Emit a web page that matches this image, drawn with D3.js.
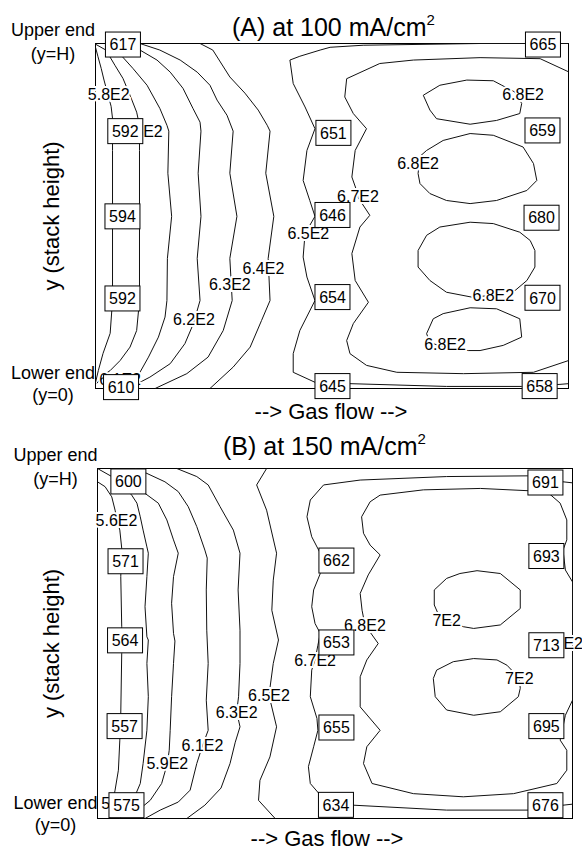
<!DOCTYPE html>
<html>
<head>
<meta charset="utf-8">
<script src="https://cdn.jsdelivr.net/npm/d3@7"></script>
<style>
  body { margin: 0; background: #fff; }
  text { font-family: "Liberation Sans", Arial, sans-serif; fill: #000; }
</style>
</head>
<body>
<svg id="chart" width="582" height="850"></svg>
<script>
// positions are fractions: x along gas flow (0 = inlet), y along stack height (0 = lower end, 1 = H)

// ---- panel A, 100 mA/cm2 ----
const boxesA = [
  [0.058, 0.997, 617], [0.063, 0.746, 592], [0.057, 0.499, 594], [0.057, 0.261, 592], [0.054, 0.004, 610],
  [0.503, 0.741, 651], [0.501, 0.503, 646], [0.501, 0.265, 654], [0.501, 0.007, 645],
  [0.946, 0.997, 665], [0.945, 0.748, 659], [0.943, 0.495, 680], [0.945, 0.263, 670], [0.939, 0.007, 658]
];

const contoursA = [
  [580, [[0,0.989],[0.005,0.963],[0.012,0.928],[0.018,0.894],[0.026,0.853],[0.033,0.818],[0.036,0.783],[0.036,0.69],[0.036,0.5],[0.036,0.255],[0.031,0.16],[0.016,0.102],[0.006,0.052],[0,0.017]]],
  [600, [[0,0.998],[0.022,0.981],[0.041,0.937],[0.058,0.899],[0.073,0.85],[0.087,0.801],[0.093,0.763],[0.093,0.69],[0.093,0.499],[0.093,0.255],[0.087,0.168],[0.073,0.12],[0.052,0.081],[0.031,0.052],[0.016,0.038],[0.003,0.015]]],
  [610, [[0.041,1],[0.052,0.969],[0.079,0.928],[0.109,0.879],[0.136,0.812],[0.151,0.763],[0.155,0.746],[0.153,0.624],[0.161,0.499],[0.152,0.377],[0.151,0.255],[0.147,0.207],[0.133,0.149],[0.112,0.091],[0.094,0.047],[0.079,0.023],[0.062,0]]],
  [620, [[0.073,1],[0.094,0.981],[0.13,0.952],[0.158,0.917],[0.185,0.87],[0.206,0.812],[0.221,0.772],[0.223,0.746],[0.217,0.624],[0.223,0.499],[0.215,0.377],[0.221,0.255],[0.207,0.188],[0.189,0.13],[0.158,0.072],[0.115,0.033],[0.094,0.018],[0.077,0]]],
  [630, [[0.094,1],[0.136,0.981],[0.179,0.952],[0.215,0.917],[0.242,0.879],[0.257,0.836],[0.278,0.792],[0.291,0.746],[0.284,0.624],[0.299,0.499],[0.284,0.377],[0.289,0.255],[0.27,0.168],[0.238,0.091],[0.193,0.043],[0.126,0]]],
  [640, [[0.221,1],[0.248,0.981],[0.284,0.903],[0.316,0.856],[0.344,0.807],[0.363,0.763],[0.369,0.746],[0.36,0.624],[0.377,0.499],[0.365,0.377],[0.369,0.255],[0.351,0.197],[0.327,0.12],[0.291,0.062],[0.242,0]]],
  [650, [[1,1],[0.813,1],[0.566,0.995],[0.496,0.989],[0.475,0.981],[0.432,0.963],[0.411,0.952],[0.418,0.884],[0.443,0.816],[0.464,0.753],[0.447,0.69],[0.439,0.603],[0.453,0.545],[0.464,0.499],[0.443,0.449],[0.439,0.381],[0.447,0.323],[0.464,0.255],[0.432,0.168],[0.418,0.101],[0.418,0.047],[0.464,0.018],[0.538,0.014],[0.742,0.006],[0.901,0.006],[0.982,0.012],[1,0.014]]],
  [670, [[1,0.918],[0.94,0.956],[0.813,0.959],[0.672,0.952],[0.601,0.942],[0.531,0.898],[0.527,0.845],[0.545,0.797],[0.573,0.753],[0.549,0.69],[0.542,0.613],[0.552,0.574],[0.555,0.554],[0.58,0.502],[0.559,0.468],[0.542,0.391],[0.549,0.313],[0.577,0.25],[0.545,0.188],[0.531,0.139],[0.538,0.101],[0.573,0.067],[0.637,0.047],[0.778,0.043],[0.926,0.047],[1,0.081]]],
  [680, [[0.693,0.85],[0.728,0.879],[0.785,0.894],[0.841,0.892],[0.859,0.879],[0.887,0.859],[0.901,0.826],[0.897,0.797],[0.848,0.777],[0.792,0.766],[0.721,0.782],[0.707,0.807],[0.693,0.85]]],
  [680, [[0.686,0.673],[0.7,0.69],[0.735,0.719],[0.792,0.739],[0.841,0.734],[0.904,0.7],[0.926,0.652],[0.933,0.603],[0.912,0.574],[0.848,0.545],[0.792,0.536],[0.742,0.545],[0.707,0.565],[0.686,0.594],[0.682,0.623],[0.686,0.673]]],
  [680, [[0.929,0.4],[0.929,0.352],[0.912,0.313],[0.887,0.284],[0.841,0.27],[0.795,0.265],[0.742,0.279],[0.707,0.313],[0.682,0.352],[0.682,0.4],[0.7,0.444],[0.728,0.468],[0.792,0.482],[0.841,0.478],[0.897,0.453],[0.919,0.429],[0.929,0.4]]],
  [680, [[0.7,0.159],[0.714,0.202],[0.735,0.217],[0.792,0.234],[0.848,0.231],[0.897,0.202],[0.901,0.149],[0.862,0.125],[0.813,0.11],[0.788,0.11],[0.739,0.119],[0.707,0.133],[0.7,0.159]]]
];

const labelsA = [
  [0.028, 0.853, 580], [0.112, 0.746, 600], [0.052, 0.026, 610], [0.208, 0.2, 620],
  [0.284, 0.302, 630], [0.355, 0.35, 640], [0.45, 0.451, 650], [0.555, 0.556, 670],
  [0.904, 0.852, 680], [0.682, 0.654, 680], [0.841, 0.27, 680], [0.739, 0.128, 680]
];

// ---- panel B, 150 mA/cm2 ----
const boxesB = [
  [0.065, 0.963, 600], [0.059, 0.735, 571], [0.058, 0.509, 564], [0.057, 0.264, 557], [0.061, 0.038, 575],
  [0.503, 0.737, 662], [0.503, 0.503, 653], [0.503, 0.26, 655], [0.502, 0.039, 634],
  [0.943, 0.96, 691], [0.945, 0.75, 693], [0.945, 0.495, 713], [0.945, 0.264, 695], [0.943, 0.038, 676]
];

const contoursB = [
  [560, [[0,0.962],[0.016,0.948],[0.03,0.919],[0.037,0.881],[0.041,0.853],[0.047,0.824],[0.051,0.772],[0.049,0.691],[0.051,0.548],[0.051,0.472],[0.049,0.3],[0.047,0.224],[0.044,0.138],[0.037,0.081],[0.031,0.038],[0.026,0]]],
  [570, [[0,1],[0.03,0.977],[0.058,0.944],[0.072,0.924],[0.083,0.901],[0.09,0.862],[0.096,0.824],[0.104,0.776],[0.107,0.758],[0.104,0.691],[0.1,0.605],[0.104,0.519],[0.107,0.51],[0.104,0.443],[0.107,0.348],[0.104,0.252],[0.096,0.157],[0.09,0.1],[0.075,0.052],[0.058,0.018],[0.047,0]]],
  [590, [[0.079,0.953],[0.1,0.929],[0.128,0.901],[0.146,0.853],[0.16,0.796],[0.17,0.758],[0.16,0.691],[0.156,0.615],[0.16,0.529],[0.163,0.507],[0.16,0.443],[0.156,0.348],[0.153,0.252],[0.151,0.195],[0.147,0.157],[0.142,0.133],[0.135,0.1],[0.111,0.052],[0.096,0.035]]],
  [610, [[0.079,1],[0.096,0.991],[0.142,0.962],[0.17,0.934],[0.191,0.891],[0.209,0.834],[0.226,0.767],[0.231,0.744],[0.229,0.653],[0.23,0.538],[0.233,0.443],[0.229,0.338],[0.233,0.252],[0.221,0.208],[0.209,0.157],[0.195,0.081],[0.17,0.047],[0.132,0.024],[0.1,0]]],
  [630, [[0.167,1],[0.209,0.977],[0.233,0.953],[0.258,0.891],[0.286,0.824],[0.3,0.758],[0.296,0.653],[0.3,0.538],[0.3,0.443],[0.297,0.348],[0.293,0.305],[0.3,0.262],[0.29,0.218],[0.279,0.157],[0.26,0.087],[0.226,0.038],[0.188,0]]],
  [650, [[0.356,1],[0.335,0.953],[0.356,0.881],[0.377,0.758],[0.37,0.681],[0.367,0.595],[0.381,0.51],[0.37,0.443],[0.361,0.352],[0.377,0.262],[0.363,0.176],[0.342,0.109],[0.339,0.052],[0.374,0]]],
  [670, [[1,0.959],[0.98,0.962],[0.905,0.979],[0.735,0.977],[0.553,0.967],[0.476,0.953],[0.448,0.91],[0.441,0.862],[0.451,0.805],[0.469,0.758],[0.469,0.7],[0.455,0.653],[0.451,0.605],[0.458,0.557],[0.469,0.529],[0.464,0.495],[0.458,0.453],[0.451,0.424],[0.448,0.348],[0.462,0.286],[0.464,0.252],[0.455,0.205],[0.444,0.148],[0.448,0.1],[0.469,0.067],[0.539,0.038],[0.735,0.024],[0.907,0.024],[0.98,0.038],[1,0.041]]],
  [680, [[1,0.51],[1,0.676],[0.985,0.71],[0.98,0.767],[0.988,0.796],[0.988,0.853],[0.974,0.901],[0.946,0.934],[0.806,0.943],[0.686,0.939],[0.595,0.924],[0.574,0.905],[0.556,0.862],[0.56,0.815],[0.574,0.781],[0.595,0.753],[0.57,0.696],[0.553,0.643],[0.557,0.595],[0.563,0.553],[0.591,0.5],[0.567,0.453],[0.553,0.405],[0.553,0.319],[0.595,0.252],[0.567,0.205],[0.56,0.157],[0.578,0.1],[0.665,0.071],[0.77,0.062],[0.876,0.071],[0.967,0.1],[0.988,0.138],[0.988,0.195],[0.974,0.224],[0.985,0.295],[1,0.338],[1,0.51]]],
  [700, [[0.709,0.653],[0.709,0.61],[0.721,0.573],[0.77,0.548],[0.792,0.543],[0.848,0.553],[0.89,0.6],[0.89,0.653],[0.848,0.7],[0.799,0.708],[0.763,0.7],[0.735,0.686],[0.709,0.653]]],
  [700, [[0.707,0.4],[0.714,0.424],[0.749,0.448],[0.792,0.457],[0.841,0.453],[0.862,0.438],[0.888,0.401],[0.89,0.372],[0.886,0.348],[0.848,0.305],[0.792,0.295],[0.735,0.31],[0.711,0.348],[0.707,0.4]]]
];

const labelsB = [
  [0.04, 0.853, 560], [0.052, 0.044, 570], [0.147, 0.157, 590], [0.221, 0.208, 610],
  [0.293, 0.305, 630], [0.361, 0.352, 650], [0.458, 0.453, 670], [0.563, 0.553, 680],
  [0.978, 0.501, 680], [0.735, 0.567, 700], [0.888, 0.401, 700]
];

const fmt = (v) => v / 100 + "E2";

const svg = d3.select("#chart");

function drawPanel(p) {
  const x = d3.scaleLinear().domain([0, 1]).range([p.left, p.right]);
  const y = d3.scaleLinear().domain([0, 1]).range([p.bottom, p.top]);
  const g = svg.append("g");

  g.append("rect")
    .attr("x", p.left)
    .attr("y", p.top)
    .attr("width", p.right - p.left)
    .attr("height", p.bottom - p.top)
    .attr("fill", "none")
    .attr("stroke", "#000")
    .attr("stroke-width", 1);

  const line = d3
    .line()
    .x((d) => x(d[0]))
    .y((d) => y(d[1]));

  g.selectAll(".contour")
    .data(p.contours)
    .join("path")
    .attr("class", "contour")
    .attr("d", (d) => line(d[1]))
    .attr("fill", "none")
    .attr("stroke", "#111")
    .attr("stroke-width", 1);

  // contour labels sit on the lines; boxes are drawn after them and may cover them, as in the original
  g.selectAll(".clabel")
    .data(p.labels)
    .join("text")
    .attr("class", "clabel")
    .attr("x", (d) => x(d[0]))
    .attr("y", (d) => y(d[1]))
    .attr("dy", "0.36em")
    .attr("text-anchor", "middle")
    .attr("font-size", 16)
    .attr("stroke", "#fff")
    .attr("stroke-width", 4)
    .attr("paint-order", "stroke")
    .text((d) => fmt(d[2]));

  const box = g
    .selectAll(".box")
    .data(p.boxes)
    .join("g")
    .attr("class", "box")
    .attr("transform", (d) => "translate(" + x(d[0]) + "," + y(d[1]) + ")");
  box
    .append("rect")
    .attr("x", -17.5)
    .attr("y", -12.5)
    .attr("width", 35)
    .attr("height", 25)
    .attr("fill", "#fff")
    .attr("stroke", "#000");
  box
    .append("text")
    .attr("text-anchor", "middle")
    .attr("dy", "0.36em")
    .attr("font-size", 16)
    .text((d) => d[2]);

  const title = g
    .append("text")
    .attr("x", p.titleX)
    .attr("y", p.titleY)
    .attr("font-size", 25);
  title.append("tspan").text(p.title);
  title.append("tspan").attr("dy", -11).attr("font-size", 15).text("2");

  const endX = p.endX;
  [["Upper end", p.top - 8], ["(y=H)", p.top + 16], ["Lower end", p.bottom - 10], ["(y=0)", p.bottom + 12]].forEach((t) => {
    g.append("text")
      .attr("x", endX)
      .attr("y", t[1])
      .attr("text-anchor", "middle")
      .attr("font-size", 18)
      .text(t[0]);
  });

  g.append("text")
    .attr("transform", "translate(59," + (p.top + p.bottom) / 2 + ") rotate(-90)")
    .attr("text-anchor", "middle")
    .attr("font-size", 22)
    .text("y (stack height)");

  g.append("text")
    .attr("x", p.flowX)
    .attr("y", p.bottom + p.flowDy)
    .attr("text-anchor", "middle")
    .attr("font-size", 22)
    .text("--> Gas flow -->");
}

drawPanel({
  left: 95.5, right: 568.5, top: 43.5, bottom: 388.5,
  contours: contoursA, labels: labelsA, boxes: boxesA,
  title: "(A) at 100 mA/cm", titleX: 232, titleY: 36,
  endX: 53, flowX: 331, flowDy: 30
});

drawPanel({
  left: 97.5, right: 572.5, top: 468.5, bottom: 818.5,
  contours: contoursB, labels: labelsB, boxes: boxesB,
  title: "(B) at 150 mA/cm", titleX: 223, titleY: 455,
  endX: 55.5, flowX: 327, flowDy: 27
});
</script>
</body>
</html>
